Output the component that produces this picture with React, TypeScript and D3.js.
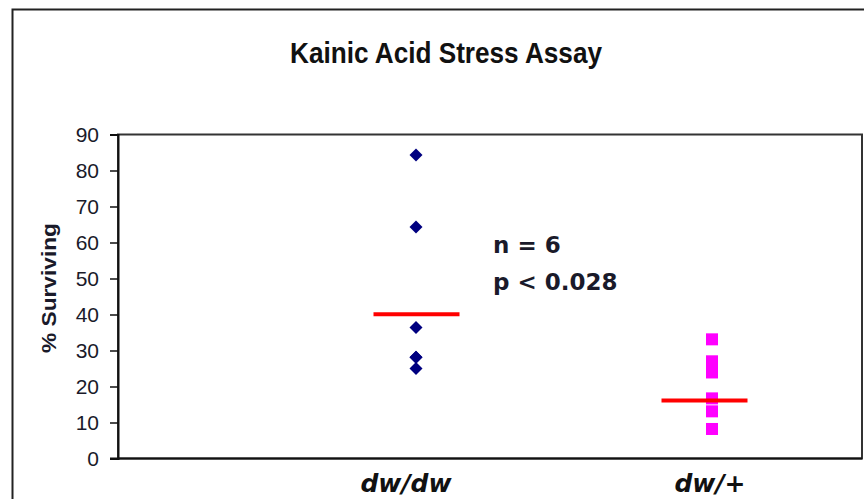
import React, { useEffect, useRef } from 'react';
import * as d3 from 'd3';

const categories = ['dw/dw', 'dw/+'];
const dwdwValues = [84.3, 64.3, 36.4, 28.1, 28.1, 25.0];
const dwPlusValues = [33.1, 27.0, 23.9, 16.7, 13.1, 8.2];
const meanValues = [40.1, 16.1];
const yTicks = [0, 10, 20, 30, 40, 50, 60, 70, 80, 90];
const statLines = ['n = 6', 'p < 0.028'];

const W = 864;
const H = 499;

export default function App() {
  const svgRef = useRef<SVGSVGElement>(null);

  useEffect(() => {
    if (!svgRef.current) return;
    const svg = d3.select(svgRef.current);
    svg.selectAll('*').remove();

    const plot = { left: 118, top: 134.5, right: 862, bottom: 458.5 };

    const yScale = d3.scaleLinear().domain([0, 90]).range([plot.bottom, plot.top]);
    const xScale = d3.scalePoint<string>()
      .domain(categories)
      .range([416, 712]);

    // outer chart border
    svg.append('rect')
      .attr('x', 12.5).attr('y', 9.5)
      .attr('width', 900).attr('height', 520)
      .attr('fill', 'white')
      .attr('stroke', '#222').attr('stroke-width', 2);

    // title
    svg.append('text')
      .attr('x', 446).attr('y', 63)
      .attr('text-anchor', 'middle')
      .attr('font-family', "'Liberation Sans', Arial, sans-serif")
      .attr('font-weight', 'bold')
      .attr('font-size', 30)
      .attr('textLength', 312)
      .attr('lengthAdjust', 'spacingAndGlyphs')
      .attr('fill', '#111')
      .text('Kainic Acid Stress Assay');

    // plot area border
    svg.append('rect')
      .attr('x', plot.left).attr('y', plot.top)
      .attr('width', plot.right - plot.left).attr('height', plot.bottom - plot.top)
      .attr('fill', 'none')
      .attr('stroke', '#333').attr('stroke-width', 2);

    // Y axis
    svg.append('g')
      .attr('transform', `translate(${plot.left},0)`)
      .call(d3.axisLeft(yScale).tickValues(yTicks).tickSize(8).tickPadding(11))
      .call(g => g.select('.domain').attr('stroke', '#111').attr('stroke-width', 2))
      .call(g => g.selectAll('.tick line').attr('stroke', '#111').attr('stroke-width', 1.5))
      .call(g => g.selectAll('.tick text')
        .attr('fill', '#1a1a2a')
        .attr('font-family', "'Liberation Sans', Arial, sans-serif")
        .attr('font-size', 21));

    // X axis line
    svg.append('line')
      .attr('x1', plot.left - 8).attr('x2', plot.right)
      .attr('y1', plot.bottom).attr('y2', plot.bottom)
      .attr('stroke', '#111').attr('stroke-width', 2);

    // y axis label
    svg.append('text')
      .attr('transform', 'translate(56,288) rotate(-90)')
      .attr('text-anchor', 'middle')
      .attr('font-family', "'Liberation Sans', Arial, sans-serif")
      .attr('font-weight', 'bold')
      .attr('font-size', 20)
      .attr('textLength', 130)
      .attr('lengthAdjust', 'spacingAndGlyphs')
      .attr('fill', '#1a1a2a')
      .text('% Surviving');

    // x category labels
    svg.selectAll('.xlab')
      .data(categories)
      .enter()
      .append('text')
      .attr('x', (d, i) => xScale(d)! + (i === 0 ? -10 : -2))
      .attr('y', 492)
      .attr('text-anchor', 'middle')
      .attr('font-family', "'DejaVu Sans', sans-serif")
      .attr('font-weight', 'bold')
      .attr('font-style', 'italic')
      .attr('font-size', 25)
      .attr('fill', '#111')
      .text(d => d);

    // dw/dw diamonds
    const diamond = d3.symbol().type(d3.symbolSquare).size(85);
    svg.selectAll('.dw')
      .data(dwdwValues)
      .enter()
      .append('path')
      .attr('d', diamond()!)
      .attr('transform', d => `translate(${xScale('dw/dw')},${yScale(d)}) rotate(45)`)
      .attr('fill', '#000080');

    // dw/+ squares
    svg.selectAll('.dp')
      .data(dwPlusValues)
      .enter()
      .append('rect')
      .attr('x', xScale('dw/+')! - 6)
      .attr('y', d => yScale(d) - 6)
      .attr('width', 12).attr('height', 12)
      .attr('fill', '#ff00ff');

    // mean lines
    const halfLen = 43;
    const meanOffset = [0.5, -7.5];
    svg.selectAll('.mean')
      .data(meanValues)
      .enter()
      .append('line')
      .attr('x1', (d, i) => xScale(categories[i])! + meanOffset[i] - halfLen)
      .attr('x2', (d, i) => xScale(categories[i])! + meanOffset[i] + halfLen)
      .attr('y1', d => yScale(d)).attr('y2', d => yScale(d))
      .attr('stroke', '#ff0000')
      .attr('stroke-width', 4);

    // stats text
    svg.selectAll('.stat')
      .data(statLines)
      .enter()
      .append('text')
      .attr('x', 493)
      .attr('y', (d, i) => 253 + i * 37)
      .attr('font-family', "'DejaVu Sans', sans-serif")
      .attr('font-weight', 'bold')
      .attr('font-size', 23)
      .attr('fill', '#1a1a2a')
      .text(d => d);
  }, []);

  return (
    <svg
      ref={svgRef}
      width={W}
      height={H}
      style={{ position: 'absolute', left: 0, top: 0, display: 'block', background: 'white' }}
    />
  );
}
